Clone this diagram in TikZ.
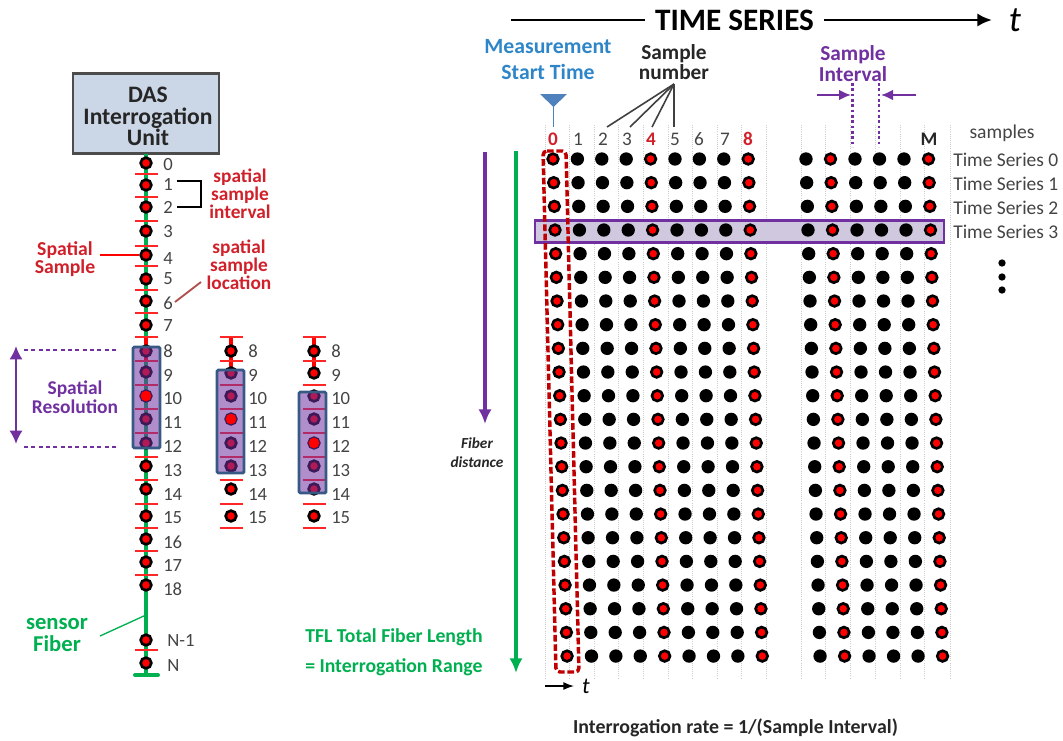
\documentclass[tikz,border=0pt]{standalone}
\usepackage{xcolor}
\usepackage{fontspec}
\setmainfont{Carlito}
\usepackage{tikz}
\usetikzlibrary{arrows.meta}

\definecolor{fiberGreen}{HTML}{00B050}
\definecolor{resPurple}{HTML}{7030A0}
\definecolor{labelRed}{HTML}{D0202A}
\definecolor{darkRed}{HTML}{C00000}
\definecolor{startBlue}{HTML}{2E86C8}
\definecolor{triBlue}{HTML}{4F81BD}
\definecolor{boxBlue}{HTML}{CBD7E6}
\definecolor{numGray}{HTML}{444444}
\definecolor{bandFill}{HTML}{D0C8DE}
\definecolor{locRed}{HTML}{B0504D}

\newcommand{\fs}[2]{\fontsize{#1}{#2}\selectfont}

\begin{document}
\begin{tikzpicture}[x=0.75pt, y=-0.75pt, >=Latex,
    blackdot/.style={circle, fill=black, inner sep=0pt, minimum size=10pt},
    reddot/.style={circle, draw=black, fill=red, line width=2pt, inner sep=0pt, minimum size=8pt},
    resbox/.style={draw=triBlue!70!black, line width=2.2pt, fill=resPurple, fill opacity=0.55, rounded corners=1pt, inner sep=0pt},
    tickline/.style={red!85!white, line width=1.1pt},
    gridline/.style={gray!40, line width=0.6pt, densely dotted},
    dashpurple/.style={resPurple, line width=2pt, dash pattern=on 3pt off 2.5pt},
    dotpurple/.style={resPurple, line width=1.7pt, dash pattern=on 2pt off 2pt},
    numlabel/.style={anchor=west, inner sep=0pt, text=numGray, font=\fs{14}{16}},
    redtext/.style={align=center, inner sep=0pt, text=labelRed, font=\bfseries\fs{14.5}{13.4}},
    purpletext/.style={align=center, inner sep=0pt, text=resPurple, font=\bfseries\fs{16}{15.6}},
    greentext/.style={anchor=west, inner sep=0pt, text=fiberGreen, font=\bfseries\fs{14.8}{16}},
    tslabel/.style={anchor=west, inner sep=0pt, text=numGray, font=\fs{14.6}{16}},
    collabel/.style={inner sep=0pt, text=numGray, font=\fs{14.4}{16}},
    colred/.style={inner sep=0pt, text=labelRed, font=\bfseries\fs{14.4}{16}}]

    \useasboundingbox (0,0) rectangle (1063,740);

    \node[draw=black!70, line width=1.7pt, fill=boxBlue, minimum width=110pt, minimum height=60pt, inner sep=0pt] (das) at (146,113.5) {};
    \node[inner sep=0pt, align=center, text=black!85, font=\bfseries\fs{17.7}{16.2}] (dastext) at (148,116.5) {DAS\\Interrogation\\Unit};

    \coordinate (fibertop) at (146,154);
    \coordinate (fiberend) at (146,675);
    \coordinate (fiberL) at (135,675);
    \coordinate (fiberR) at (158,675);
    \draw[fiberGreen, line width=3pt] (fibertop) -- (fiberend);
    \draw[fiberGreen, line width=3pt, line cap=round] (fiberL) -- (fiberR);
    \coordinate (redA) at (146,337);
    \coordinate (redB) at (146,361);
    \draw[red, line width=3pt] (redA) -- (redB);

    \foreach \y in {174,197,221,246,266,290,313,337,361,385,409,433,457,480,504,528,551,575,650}
        \draw[tickline] (135,\y) -- (158,\y);

    \foreach \n/\y/\ly in {0/163/165,1/185/184,2/207/207,3/231/231,4/255/258,5/279/279,6/301/303,7/325/326,8/351/351,9/372/375,10/396/398,11/419/422,12/443/446,13/466/470,14/489/494,15/516/518,16/539/542,17/562/565,18/585/589} {
        \node[reddot] (a\n) at (146,\y) {};
        \node[numlabel] (alab\n) at (163,\ly) {\n};
    }
    \node[reddot] (aNm) at (146,640) {};
    \node[numlabel] (alabNm) at (167,640) {N-1};
    \node[reddot] (aN) at (146,663) {};
    \node[numlabel] (alabN) at (167,665) {N};

    \foreach \col/\xc/\xl in {b/231/248,c/314/331} {
        \coordinate (\col top) at (\xc,337);
        \coordinate (\col low) at (\xc,373);
        \draw[red, line width=3pt] (\col top) -- (\col low);
        \foreach \y in {337,361,385,409,433,457,480,504,528}
            \draw[tickline] (\xc-11.5,\y) -- (\xc+11.5,\y);
        \foreach \n/\y/\ly in {8/351/351,9/373/375,10/396/398,11/419/422,12/443/446,13/466/470,14/489/494,15/516/518} {
            \node[reddot] (\col\n) at (\xc,\y) {};
            \node[numlabel] (\col lab\n) at (\xl,\ly) {\n};
        }
    }

    \path[resbox] (133,347) rectangle (160,448);
    \path[resbox] (217,370) rectangle (244,473);
    \path[resbox] (299,392) rectangle (326,493);
    \node[reddot, draw=none, minimum size=8pt] (amid) at (146,396) {};
    \node[reddot, draw=none, minimum size=8pt] (bmid) at (231,419) {};
    \node[reddot, draw=none, minimum size=8pt] (cmid) at (314,443) {};

    \node[purpletext, font=\bfseries\fs{14.6}{14.4}] (res) at (75,397) {Spatial\\Resolution};
    \coordinate (resTop) at (16,346);
    \coordinate (resLow) at (16,444);
    \draw[<->, resPurple, line width=2.2pt, >={Latex[length=10pt, width=10pt]}] (resTop) -- (resLow);
    \coordinate (dashA) at (24,350);
    \coordinate (dashB) at (118,350);
    \coordinate (dashC) at (24,447);
    \coordinate (dashD) at (118,447);
    \draw[dashpurple] (dashA) -- (dashB);
    \draw[dashpurple] (dashC) -- (dashD);

    \node[redtext] (interval) at (240,193.5) {spatial\\sample\\interval};
    \coordinate (brackA) at (177,181);
    \coordinate (brackB) at (201,181);
    \coordinate (brackC) at (201,207);
    \coordinate (brackD) at (177,207);
    \draw[black, line width=1.8pt] (brackA) -- (brackB) -- (brackC) -- (brackD);
    \node[redtext, font=\bfseries\fs{14.8}{14}] (spsample) at (65,259) {Spatial\\Sample};
    \coordinate (spsampleEnd) at (100,255);
    \draw[red, line width=1.6pt] (spsampleEnd) -- (a4.west);
    \node[redtext] (location) at (239,265) {spatial\\sample\\location};
    \coordinate (locA) at (175,302);
    \coordinate (locB) at (201,282);
    \draw[locRed, line width=1.4pt] (locA) -- (locB);

    \node[align=center, inner sep=0pt, text=fiberGreen, font=\bfseries\fs{17}{16}] (sensor) at (57,635) {sensor\\Fiber};
    \coordinate (sensorStart) at (100,636);
    \coordinate (sensorEnd) at (146,615);
    \draw[fiberGreen, line width=1pt] (sensorStart) -- (sensorEnd);

    \node[greentext] (tfl) at (305,637) {TFL Total Fiber Length};
    \node[greentext] (range) at (305,667) {= Interrogation Range};

    \foreach \x in {545,569.6,594.2,618.8,643.4,668,692.6,717.2,741.8,766.4,801,825.6,850,875,900,924.6,950}
        \draw[gridline] (\x,125) -- (\x,678);

    \node[draw=resPurple, line width=1.9pt, fill=bandFill, minimum width=306.7pt, minimum height=16.5pt, inner sep=0pt] (band) at (739.5,231.5) {};

    \foreach \r [evaluate=\r as \ry using {159+23.67*\r}, evaluate=\r as \dx using {0.67*\r}] in {0,...,21} {
        \foreach \c/\x/\st in {0/553/reddot,1/577.4/blackdot,2/601.8/blackdot,3/626.2/blackdot,4/650.6/reddot,5/675/blackdot,6/699.4/blackdot,7/723.8/blackdot,8/748.2/reddot,9/806/blackdot,10/830.5/reddot,11/855/blackdot,12/879.5/blackdot,13/904/blackdot,14/928.5/reddot}
            \node[\st] (s\r-\c) at (\x+\dx,\ry) {};
    }

    \coordinate (winA) at (543,151);
    \coordinate (winB) at (566,151);
    \coordinate (winC) at (579,672);
    \coordinate (winD) at (556,672);
    \draw[darkRed, line width=2.6pt, dash pattern=on 5pt off 2pt, rounded corners=3pt] (winA) -- (winB) -- (winC) -- (winD) -- cycle;

    \foreach \c/\x in {1/578,2/603,3/627,5/675,6/699,7/725}
        \node[collabel] (col\c) at (\x,139) {\c};
    \foreach \c/\x in {0/553,4/651,8/748}
        \node[colred] (col\c) at (\x,139) {\c};
    \node[inner sep=0pt, text=black!85, font=\bfseries\fs{14.4}{16}] (colM) at (929,139) {M};

    \node[inner sep=0pt, font=\bfseries\fs{23.4}{26}] (title) at (734.5,20) {TIME SERIES};
    \coordinate (titleA) at (511,20);
    \coordinate (titleB) at (645,20);
    \coordinate (titleC) at (824,20);
    \coordinate (titleD) at (992,20);
    \node[inner sep=0pt, font=\itshape\fs{27}{28}] (tbig) at (1015,20) {t};
    \draw[black, line width=2.1pt] (titleA) -- (titleB);
    \draw[->, black, line width=2.1pt, >={Latex[length=11pt, width=10pt]}] (titleC) -- (titleD);

    \node[align=center, inner sep=0pt, text=startBlue, font=\bfseries\fs{16.3}{19.5}] (mstart) at (548,60) {Measurement\\Start Time};
    \coordinate (triA) at (540,94);
    \coordinate (triB) at (567,94);
    \coordinate (triC) at (553.5,107);
    \coordinate (stemEnd) at (553.5,127);
    \fill[triBlue] (triA) -- (triB) -- (triC) -- cycle;
    \draw[triBlue, line width=1.4pt] (triC) -- (stemEnd);

    \node[align=center, inner sep=0pt, font=\bfseries\fs{16}{15.6}, text=black!85] (snum) at (674,62) {Sample\\number};
    \coordinate (snumTip) at (674,84);
    \foreach \x/\n in {607/2,630/3,652/4,674/5} {
        \coordinate (snumEnd\n) at (\x,127);
        \draw[black!75, line width=1.2pt] (snumTip) -- (snumEnd\n);
    }

    \node[purpletext] (sinterval) at (853,63.5) {Sample\\Interval};
    \coordinate (dotA) at (852.5,83);
    \coordinate (dotB) at (852.5,147);
    \coordinate (dotC) at (879,83);
    \coordinate (dotD) at (879,147);
    \draw[dotpurple] (dotA) -- (dotB);
    \draw[dotpurple] (dotC) -- (dotD);
    \coordinate (inA) at (817,95);
    \coordinate (inB) at (851,95);
    \coordinate (inC) at (916,95);
    \coordinate (inD) at (881,95);
    \draw[->, resPurple, line width=1.4pt, >={Latex[length=9pt, width=8pt]}] (inA) -- (inB);
    \draw[->, resPurple, line width=1.4pt, >={Latex[length=9pt, width=8pt]}] (inC) -- (inD);

    \node[inner sep=0pt, text=numGray, font=\fs{14.7}{16}] (samples) at (1002,133) {samples};
    \foreach \n/\y in {0/160,1/184,2/208,3/232}
        \node[tslabel] (ts\n) at (953,\y) {Time Series \n};
    \foreach \n/\y in {1/263,2/277,3/290}
        \node[circle, fill=black, inner sep=0pt, minimum size=5.5pt] (more\n) at (1002,\y) {};

    \coordinate (distA) at (485,152);
    \coordinate (distB) at (485,424);
    \draw[->, resPurple, line width=2.4pt, >={Latex[length=11pt, width=10pt]}] (distA) -- (distB);
    \coordinate (rangeA) at (516,151);
    \coordinate (rangeB) at (516,673);
    \draw[->, fiberGreen, line width=2.4pt, >={Latex[length=11pt, width=10pt]}] (rangeA) -- (rangeB);
    \node[align=center, inner sep=0pt, font=\bfseries\itshape\fs{11.5}{14.3}, text=black!85] (fdist) at (477,452.5) {Fiber\\distance};

    \coordinate (smallA) at (545,686);
    \coordinate (smallB) at (574,686);
    \draw[->, black, line width=1.1pt, >={Latex[length=8pt, width=6pt]}] (smallA) -- (smallB);
    \node[inner sep=0pt, font=\itshape\fs{17}{18}] (tsmall) at (586,686) {t};

    \node[inner sep=0pt, text=black!85, font=\bfseries\fs{14.9}{16}] (rate) at (735.5,728) {Interrogation rate = 1/(Sample Interval)};
\end{tikzpicture}
\end{document}
